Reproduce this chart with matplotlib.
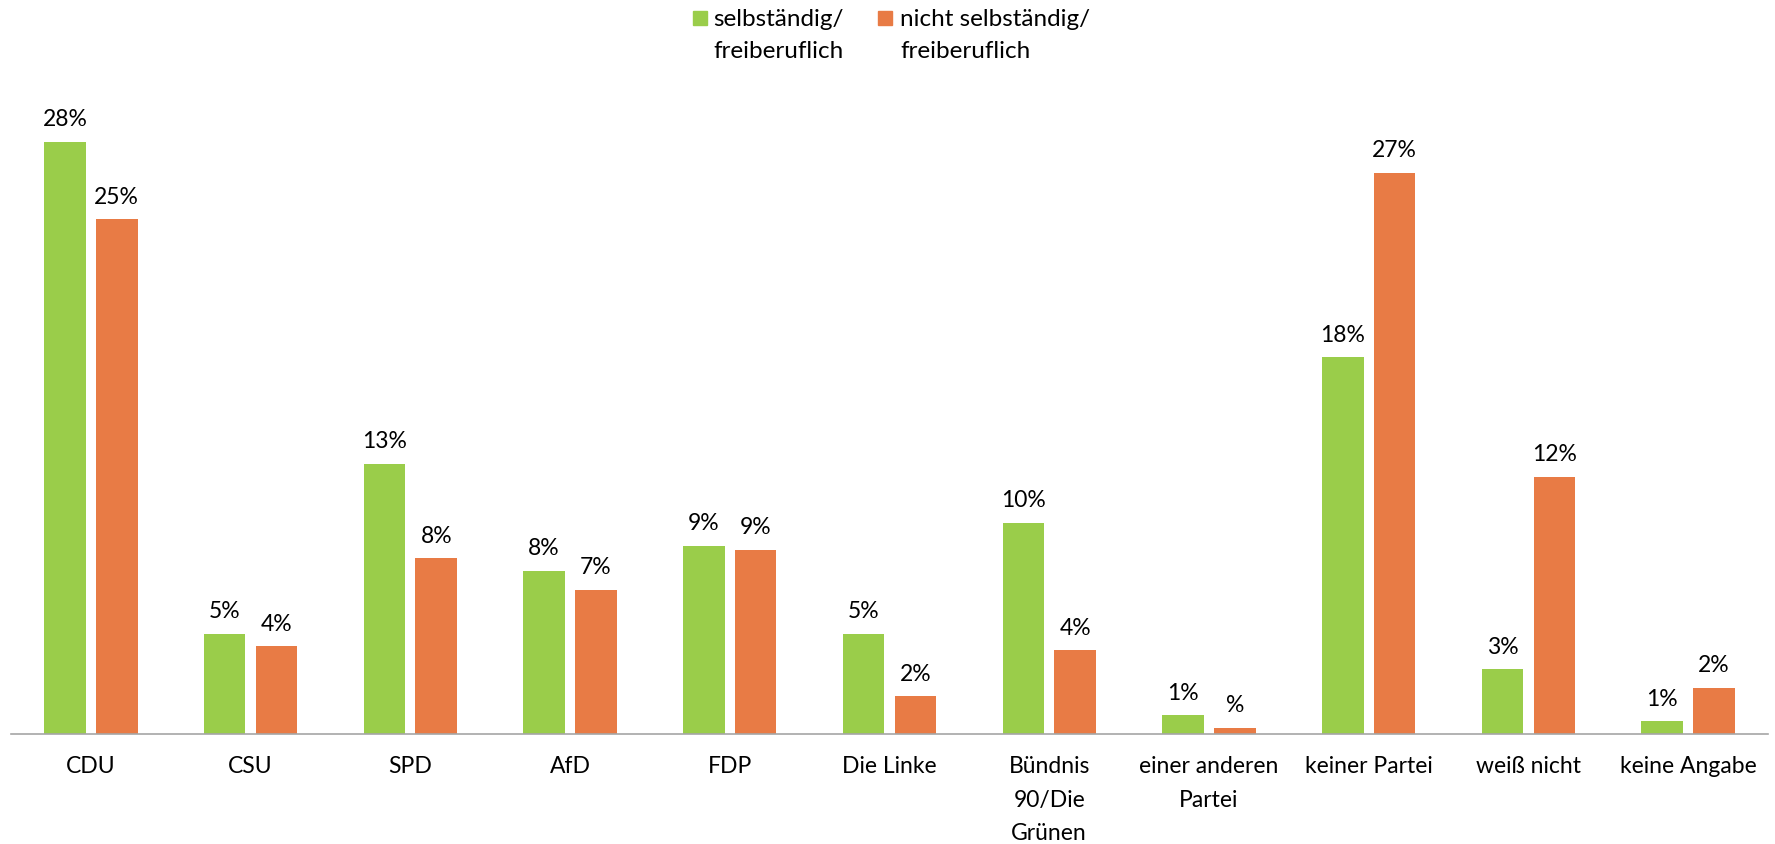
import matplotlib
matplotlib.use("Agg")
import matplotlib.pyplot as plt
from matplotlib.patches import Rectangle
import numpy as np

plt.rcParams['font.family'] = ['Lato', 'DejaVu Sans']

categories = ["CDU", "CSU", "SPD", "AfD", "FDP", "Die Linke",
              "Bündnis\n90/Die\nGrünen", "einer anderen\nPartei",
              "keiner Partei", "weiß nicht", "keine Angabe"]
selbst = [28.3, 4.8, 12.9, 7.8, 9.0, 4.8, 10.1, 0.9, 18.0, 3.1, 0.6]
nicht_selbst = [24.6, 4.2, 8.4, 6.9, 8.8, 1.8, 4.0, 0.3, 26.8, 12.3, 2.2]
selbst_labels = ["28%", "5%", "13%", "8%", "9%", "5%", "10%", "1%", "18%", "3%", "1%"]
nicht_labels = ["25%", "4%", "8%", "7%", "9%", "2%", "4%", "%", "27%", "12%", "2%"]
series_names = [["selbständig/", "freiberuflich"], ["nicht selbständig/", "freiberuflich"]]

green = "#9ACD4A"
orange = "#E87B45"

W, H = 1775, 845
fig = plt.figure(figsize=(W / 100, H / 100), dpi=100)
ax = fig.add_axes([11 / W, 1 - 735 / H, 1757 / W, 628 / H])

x = np.arange(len(categories))
w = 0.26
off = 0.162
b1 = ax.bar(x - off, selbst, w, color=green)
b2 = ax.bar(x + off, nicht_selbst, w, color=orange)

for bars, labels in ((b1, selbst_labels), (b2, nicht_labels)):
    for bar, lab in zip(bars, labels):
        ax.annotate(lab, (bar.get_x() + bar.get_width() / 2, bar.get_height()),
                    xytext=(0, 9), textcoords="offset points",
                    ha="center", va="bottom", fontsize=16.5)

ax.set_xlim(-0.5, 10.5)
ax.set_ylim(0, 30)
ax.set_xticks(x)
ax.set_xticklabels(categories, fontsize=16.5, linespacing=1.75, va="top")
ax.tick_params(axis="x", length=0, pad=15)
ax.set_yticks([])
for s in ("top", "right", "left"):
    ax.spines[s].set_visible(False)
ax.spines["bottom"].set_color("#A6A6A6")
ax.spines["bottom"].set_linewidth(1.2)

# legend drawn by hand: square aligned with the first text line
for (sq_x, txt_x), color, lines in zip([(693, 713), (878, 900)], [green, orange], series_names):
    fig.add_artist(Rectangle((sq_x / W, 1 - 26 / H), 14 / W, 14 / H,
                             transform=fig.transFigure, color=color))
    for y_px, line in zip([19, 52], lines):
        fig.text(txt_x / W, 1 - y_px / H, line, fontsize=17.5,
                 ha="left", va="center")

fig.savefig("out.png", dpi=100)
